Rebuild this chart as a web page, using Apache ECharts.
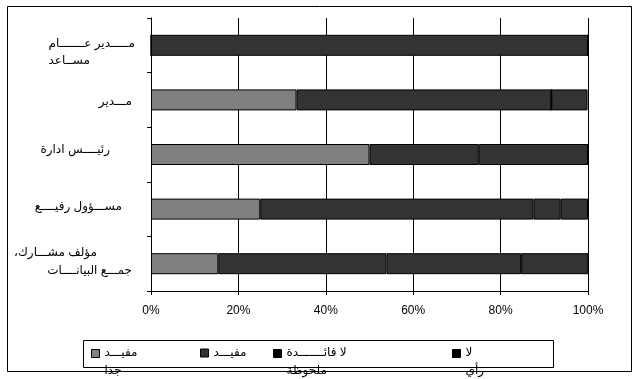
<!DOCTYPE html>
<html>
<head>
<meta charset="utf-8">
<script src="https://cdn.jsdelivr.net/npm/echarts@6/dist/echarts.min.js"></script>
<style>
html,body{margin:0;padding:0;background:#fff;}
#c{width:640px;height:379px;}
</style>
</head>
<body>
<div id="c"></div>
<script>
// ---- data ----
const categories = [
  'مـــــدير عـــــــام\nمســاعد',
  'مـــدير',
  'رئيــــس ادارة',
  'مســـؤول رفيــــع',
  'مؤلف مشـــارك،\u200F\nجمـــع البيانــــات'
];
const seriesNames = ['مفيد جدا', 'مفيد', 'لا فائدة ملحوظة', 'لا رأي'];
const legendLabels = [['مفيـــد', 'جدا'], ['مفيـــد'], ['لا فائـــــــدة', 'ملحوظة'], ['لا', 'رأي']];
const veryUseful = [0, 33.3, 50, 25, 15.4];
const useful = [100, 58.3, 25, 62.5, 38.5];
const noBenefit = [0, 0, 25, 6.25, 30.8];
const noOpinion = [0, 8.3, 0, 6.25, 15.4];
const xTicks = [0, 20, 40, 60, 80, 100];

const seriesData = [veryUseful, useful, noBenefit, noOpinion];
const barColors = ['#808080', '#333333', '#333333', '#333333'];
const legendColors = ['#808080', '#333333', '#000000', '#000000'];
const legendLeft = [91, 200, 273, 452];

// per-label placement styles (padding: [top, right, bottom, left]; align per line)
const labelLineStyles = [
  [{padding: [13, 0, 5, 0]}, {padding: [0, 0, 0, 0], align: 'left'}],
  [{padding: [4, 3, 0, 0]}],
  [{padding: [0, 25, 10, 0]}],
  [{padding: [0, 13, 4, 0]}],
  [{padding: [0, 38, 6, 0]}, {padding: [0, 3, 4, 0]}]
];

const chart = echarts.init(document.getElementById('c'), null, {renderer: 'canvas'});
const FONT = "'Liberation Sans', Arial, 'DejaVu Sans', sans-serif";

const rich = {};
labelLineStyles.forEach((lines, i) => lines.forEach((s, j) => {
  rich['l' + i + '_' + j] = Object.assign({fontSize: 12, color: '#000', fontFamily: FONT, align: 'right'}, s);
}));

const legends = seriesNames.map((n, i) => ({
  data: [{name: n, itemStyle: {color: legendColors[i], borderColor: '#000', borderWidth: 1}}],
  left: legendLeft[i],
  top: 347,
  orient: 'horizontal',
  icon: 'rect',
  itemWidth: 8,
  itemHeight: 8,
  itemGap: 0,
  padding: 0,
  selectedMode: false,
  formatter: () => legendLabels[i].map((t, j) => '{' + (j === 0 ? 'a' : 'b') + '|' + t + '}').join('\n'),
  textStyle: {
    fontFamily: FONT, fontSize: 12, color: '#000',
    rich: {
      a: {lineHeight: 34, fontSize: 12, fontFamily: FONT, color: '#000'},
      b: {lineHeight: 1, fontSize: 12, fontFamily: FONT, color: '#000'}
    }
  }
}));

const option = {
  animation: false,
  backgroundColor: '#fff',
  textStyle: {fontFamily: FONT},
  grid: {left: 151, right: 52, top: 18, bottom: 88, containLabel: false},
  xAxis: {
    type: 'value', min: xTicks[0], max: xTicks[xTicks.length - 1], interval: 20,
    axisLine: {show: true, lineStyle: {color: '#000', width: 1}},
    axisTick: {show: true, length: 4, lineStyle: {color: '#000'}},
    splitLine: {show: true, lineStyle: {color: '#000', width: 1}},
    axisLabel: {formatter: '{value}%', color: '#000', fontSize: 12, margin: 14, fontFamily: FONT}
  },
  yAxis: {
    type: 'category', data: categories, inverse: true,
    axisLine: {show: true, lineStyle: {color: '#000', width: 1}},
    axisTick: {show: true, length: 4, lineStyle: {color: '#000'}},
    axisLabel: {
      color: '#000', fontSize: 12, margin: 16, fontFamily: FONT,
      formatter: (value, idx) => value.split('\n').map((t, j) => '{l' + idx + '_' + j + '|' + t + '}').join('\n'),
      rich: rich
    }
  },
  legend: legends,
  graphic: [
    {type: 'rect', shape: {x: 7.5, y: 6.5, width: 624, height: 365}, style: {fill: 'none', stroke: '#000', lineWidth: 1}, silent: true, z: -1},
    {type: 'rect', shape: {x: 83.5, y: 340.5, width: 470, height: 27}, style: {fill: 'none', stroke: '#000', lineWidth: 1}, silent: true, z: -1}
  ],
  series: seriesNames.map((n, i) => ({
    name: n, type: 'bar', stack: 'total', barWidth: 21,
    data: seriesData[i],
    itemStyle: {color: barColors[i], borderColor: '#000', borderWidth: 1}
  }))
};
chart.setOption(option);
</script>
</body>
</html>
